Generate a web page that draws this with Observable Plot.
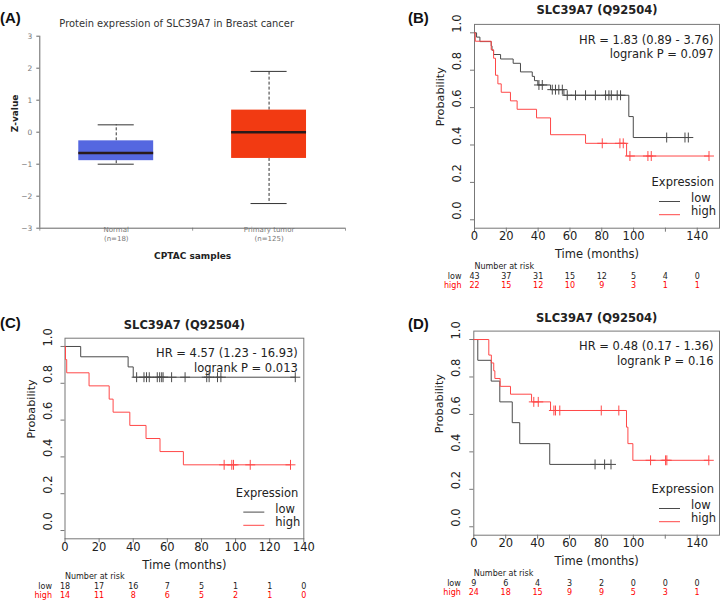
<!DOCTYPE html>
<html><head><meta charset="utf-8">
<script src="https://cdn.jsdelivr.net/npm/d3@7"></script>
<script src="https://cdn.jsdelivr.net/npm/@observablehq/plot@0.6"></script>
<style>
body{margin:0;background:#fff;}
#root{position:relative;width:720px;height:602px;overflow:hidden;background:#fff;}
.panel{position:absolute;}
.panel svg{overflow:visible;}
#labels{position:absolute;left:0;top:0;pointer-events:none;}
</style></head><body><div id="root"></div>
<script>
// ---------- Panel A data (box plot) ----------
const boxCats = ["Normal", "Primary tumor"];
const boxN = [18, 125];
const boxMin = [-1.0, -2.23];
const boxQ1 = [-0.89, -0.82];
const boxMedian = [-0.65, 0.0];
const boxQ3 = [-0.27, 0.69];
const boxMax = [0.23, 1.9];
const boxColors = ["#5567e0", "#f23a12"];
const zTicks = [-3, -2, -1, 0, 1, 2, 3];

// ---------- KM common ----------
const yTicks = [0, 0.2, 0.4, 0.6, 0.8, 1.0];
const timeTicks = [0, 20, 40, 60, 80, 100, 120, 140];
const riskTimes = [0, 20, 40, 60, 80, 100, 120, 140];

// ---------- Panel B ----------
const bLabels = [0, 20, 40, 60, 80, 100, 140];
const bLow = [[0,1],[1.3,0.977],[3.4,0.953],[10.5,0.930],[11,0.907],[12,0.884],[16.4,0.860],[24.3,0.837],[28.9,0.791],[36.3,0.767],[37.7,0.744],[39.8,0.721],[47.8,0.696],[56.2,0.666],[97,0.552],[99.8,0.44],[135.8,0.44]];
const bLowCens = [40.5,42.6,48.9,50.9,53,55.2,58.3,63.5,69.8,76,82.4,84.5,86,89.7,91.8,120.8,132.3,134.4];
const bHigh = [[0,1],[0.5,0.955],[10.5,0.909],[12,0.864],[13.2,0.773],[14.7,0.727],[16.8,0.682],[22.6,0.636],[26.8,0.591],[39,0.545],[47.8,0.455],[69.8,0.409],[95.6,0.341],[147.4,0.341]];
const bHighCens = [80.3,91.4,93.5,97.7,109,111.1,147.4];
const bRiskLow = [43,37,31,15,12,5,4,0];
const bRiskHigh = [22,15,12,10,9,3,1,1];

// ---------- Panel C ----------
const cLabels = [0, 20, 40, 60, 80, 100, 120, 140];
const cLow = [[0,1],[9.2,0.944],[37,0.889],[40,0.833],[135,0.833]];
const cLowCens = [42,46.3,47.8,49.4,54.1,55.5,56.7,57.5,62.5,70.4,83.1,84.5,89.4,91.4,135];
const cHigh = [[0,1],[0.3,0.929],[1,0.857],[14.1,0.786],[25.9,0.714],[28.2,0.643],[38,0.571],[47.5,0.5],[55.7,0.429],[69.4,0.357],[132.2,0.357]];
const cHighCens = [93.3,97.8,98.8,108.6,132.2];
const cRiskLow = [18,17,16,7,5,1,1,0];
const cRiskHigh = [14,11,8,6,5,2,1,0];

// ---------- Panel D ----------
const dLabels = [0, 20, 40, 60, 80, 100, 140];
const dLow = [[0,1],[2.5,0.889],[10.9,0.778],[16.3,0.667],[24.1,0.556],[28.8,0.444],[47.6,0.333],[86,0.333]];
const dLowCens = [76,82,86];
const dHigh = [[0,1],[9.4,0.917],[11,0.875],[12.5,0.833],[13.2,0.792],[16.5,0.75],[23,0.708],[36.2,0.667],[48.1,0.621],[95.7,0.532],[96.6,0.444],[99.7,0.355],[147.3,0.355]];
const dHighCens = [37.6,40.4,50.2,51.2,53.9,79.9,90.9,110.8,120.2,121,147.3];
const dRiskLow = [9,6,4,3,2,0,0,0];
const dRiskHigh = [24,18,15,9,9,5,3,1];

const root = document.getElementById("root");
function place(node, left, top) {
  const div = document.createElement("div");
  div.className = "panel";
  div.style.left = left + "px";
  div.style.top = top + "px";
  div.appendChild(node);
  root.appendChild(div);
}

// ---------- Panel A ----------
(function () {
  const left = 0, top = 0, width = 360, height = 300;
  const fLeft = 39.3, fRight = 345, fTop = 35.7, fBottom = 227.7;
  const boxes = boxCats.map((c, i) => ({cat: c, n: boxN[i], pos: i + 0.5, min: boxMin[i], q1: boxQ1[i], median: boxMedian[i], q3: boxQ3[i], max: boxMax[i], color: boxColors[i]}));
  const half = 0.245, cap = 0.118;
  const svg = Plot.plot({
    width, height,
    marginLeft: fLeft - left, marginRight: left + width - fRight, marginTop: fTop - top, marginBottom: top + height - fBottom,
    x: {domain: [0, 2]},
    y: {domain: [-3, 3]},
    style: {fontFamily: "DejaVu Sans, sans-serif", fontSize: "9px", color: "#222", background: "transparent"},
    marks: [
      Plot.axisY(zTicks, {tickSize: 3, tickPadding: 4.6, stroke: "#666", fill: "#777", fontSize: 7.5, label: null}),
      Plot.axisX([0, 1, 2], {tickSize: 3, stroke: "#999", fill: "none", label: null}),
      Plot.ruleY([-3], {stroke: "#666"}),
      Plot.ruleX([0], {stroke: "#666"}),
      Plot.ruleX(boxes, {x: "pos", y1: "q3", y2: "max", stroke: "#333", strokeDasharray: "3,2"}),
      Plot.ruleX(boxes, {x: "pos", y1: "q1", y2: "min", stroke: "#333", strokeDasharray: "3,2"}),
      Plot.ruleY(boxes, {y: "max", x1: d => d.pos - cap, x2: d => d.pos + cap, stroke: "#333"}),
      Plot.ruleY(boxes, {y: "min", x1: d => d.pos - cap, x2: d => d.pos + cap, stroke: "#333"}),
      Plot.rect(boxes, {x1: d => d.pos - half, x2: d => d.pos + half, y1: "q1", y2: "q3", fill: d => d.color}),
      Plot.ruleY(boxes, {y: "median", x1: d => d.pos - half, x2: d => d.pos + half, stroke: "#2a1a1a", strokeWidth: 2.5}),
      Plot.text(boxes, {x: "pos", text: d => `${d.cat}\n(n=${d.n})`, frameAnchor: "bottom", dy: 12.45, fontSize: 7, fill: "#777", lineHeight: 1.19}),
      Plot.text(["CPTAC samples"], {frameAnchor: "bottom", dy: 30.6, fontSize: 9, fontWeight: "bold", fill: "#222"}),
      Plot.text(["Z-value"], {frameAnchor: "left", dx: -24.3, rotate: -90, fontSize: 9, fontWeight: "bold", fill: "#222"}),
      Plot.text(["Protein expression of SLC39A7 in Breast cancer"], {frameAnchor: "top", dx: -16, dy: -16.4, fontSize: 9.9, fill: "#333"})
    ]
  });
  place(svg, left, top);
})();

// ---------- KM panels ----------
function km(o) {
  const ml = o.fLeft - o.left, mr = o.left + o.width - o.fRight, mt = o.fTop - o.top, mb = o.top + o.height - o.fBottom;
  const at = (steps, t) => { let v = steps[0][1]; for (const s of steps) if (s[0] <= t) v = s[1]; return v; };
  const cens = (steps, times) => times.map(t => [t, at(steps, t)]);
  const ink = "#222", lowCol = "#4a4a4a", highCol = "#ff4848", fs = 11.5;
  const svg = Plot.plot({
    width: o.width, height: o.height,
    marginLeft: ml, marginRight: mr, marginTop: mt, marginBottom: mb,
    x: {domain: [0, o.xMax]},
    y: {domain: [-0.045, 1.045]},
    style: {fontFamily: "DejaVu Sans, sans-serif", fontSize: fs + "px", color: ink, background: "transparent"},
    marks: [
      Plot.axisX(timeTicks, {tickSize: 4, stroke: "#777", fill: "none", label: null}),
      Plot.axisY(yTicks, {tickSize: 4, stroke: "#777", fill: "none", label: null}),
      Plot.frame({stroke: "#777"}),
      Plot.text(o.xLabels, {x: d => d, text: d => String(d), frameAnchor: "bottom", dy: 11.8, fill: ink, fontSize: fs}),
      Plot.text(yTicks, {y: d => d, text: d => d.toFixed(1), frameAnchor: "left", dx: -17, rotate: -90, fill: ink, fontSize: fs}),
      Plot.text(["Probability"], {frameAnchor: "left", dx: -34, rotate: -90, fill: ink, fontSize: fs - 0.3}),
      Plot.text(["Time (months)"], {frameAnchor: "bottom", dy: 30, fill: ink, fontSize: fs}),
      Plot.text([o.title], {frameAnchor: "top", dy: o.titleDy, fontWeight: "bold", fill: ink, fontSize: fs}),
      Plot.text([o.hr], {frameAnchor: "top-right", textAnchor: "end", dx: -6, dy: 11, fill: ink, fontSize: fs}),
      Plot.text([o.p], {frameAnchor: "top-right", textAnchor: "end", dx: -6, dy: 25.8, fill: ink, fontSize: fs}),
      Plot.text(["Expression"], {frameAnchor: "bottom-right", textAnchor: "end", dx: -5.5, dy: -42.3, fill: ink, fontSize: fs}),
      Plot.text(["low"], {frameAnchor: "bottom-right", textAnchor: "start", dx: -28.5, dy: -26.2, fill: ink, fontSize: fs}),
      Plot.text(["high"], {frameAnchor: "bottom-right", textAnchor: "start", dx: -28.5, dy: -13, fill: ink, fontSize: fs}),
      Plot.line(o.low, {x: d => d[0], y: d => d[1], curve: "step-after", stroke: lowCol, strokeWidth: 1}),
      Plot.line(o.high, {x: d => d[0], y: d => d[1], curve: "step-after", stroke: highCol, strokeWidth: 1}),
      Plot.dot(cens(o.low, o.lowCens), {x: d => d[0], y: d => d[1], symbol: "plus", r: 3.3, stroke: lowCol, strokeWidth: 1}),
      Plot.dot(cens(o.high, o.highCens), {x: d => d[0], y: d => d[1], symbol: "plus", r: 3.3, stroke: highCol, strokeWidth: 1}),
      Plot.text(["Number at risk"], {frameAnchor: "bottom-left", textAnchor: "start", dy: 40.5, fill: ink, fontSize: 8}),
      Plot.text(["low"], {frameAnchor: "bottom-left", textAnchor: "end", dx: -13, dy: 50.3, fill: ink, fontSize: 8}),
      Plot.text(["high"], {frameAnchor: "bottom-left", textAnchor: "end", dx: -13, dy: 59.5, fill: "#f00", fontSize: 8}),
      Plot.text(riskTimes, {x: d => d, text: (d, i) => String(o.riskLow[i]), frameAnchor: "bottom", dy: 50.3, fill: ink, fontSize: 8}),
      Plot.text(riskTimes, {x: d => d, text: (d, i) => String(o.riskHigh[i]), frameAnchor: "bottom", dy: 59.5, fill: "#f00", fontSize: 8})
    ]
  });
  // legend swatches
  const s = d3.select(svg);
  const lx1 = o.fRight - o.left - 60, lx2 = o.fRight - o.left - 39;
  const by = o.fBottom - o.top;
  s.append("line").attr("x1", lx1).attr("x2", lx2).attr("y1", by - 26.2).attr("y2", by - 26.2).attr("stroke", lowCol);
  s.append("line").attr("x1", lx1).attr("x2", lx2).attr("y1", by - 13).attr("y2", by - 13).attr("stroke", highCol);
  place(svg, o.left, o.top);
}

km({left: 360, top: 0, width: 360, height: 300, fLeft: 474, fRight: 719, fTop: 23.9, fBottom: 227.7, xMax: 154,
    xLabels: bLabels, low: bLow, high: bHigh, lowCens: bLowCens, highCens: bHighCens, riskLow: bRiskLow, riskHigh: bRiskHigh,
    title: "SLC39A7 (Q92504)", titleDy: -18.5, hr: "HR = 1.83 (0.89 - 3.76)", p: "logrank P = 0.097"});
km({left: 0, top: 300, width: 360, height: 302, fLeft: 64.5, fRight: 303.3, fTop: 337.7, fBottom: 538.3, xMax: 140,
    xLabels: cLabels, low: cLow, high: cHigh, lowCens: cLowCens, highCens: cHighCens, riskLow: cRiskLow, riskHigh: cRiskHigh,
    title: "SLC39A7 (Q92504)", titleDy: -17, hr: "HR = 4.57 (1.23 - 16.93)", p: "logrank P = 0.013"});
km({left: 360, top: 300, width: 360, height: 302, fLeft: 473.3, fRight: 719, fTop: 330.6, fBottom: 534.7, xMax: 154,
    xLabels: dLabels, low: dLow, high: dHigh, lowCens: dLowCens, highCens: dHighCens, riskLow: dRiskLow, riskHigh: dRiskHigh,
    title: "SLC39A7 (Q92504)", titleDy: -17.3, hr: "HR = 0.48 (0.17 - 1.36)", p: "logrank P = 0.16"});

// ---------- panel letters ----------
const lab = d3.select(root).append("svg").attr("id", "labels").attr("width", 720).attr("height", 602);
[["(A)", 0, 18], ["(B)", 408, 17.3], ["(C)", 0, 323], ["(D)", 408, 324]].forEach(([t, x, y]) => {
  lab.append("text").attr("x", x).attr("y", y).attr("dy", "0.35em")
    .attr("font-family", "Liberation Sans, Arial, sans-serif").attr("font-weight", "bold").attr("font-size", 15)
    .attr("fill", "#111").text(t);
});
</script></body></html>
